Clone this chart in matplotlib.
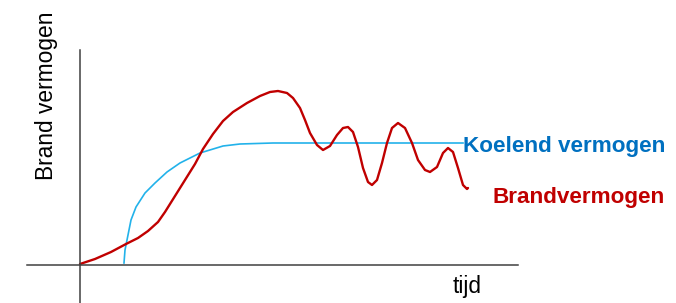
import matplotlib.pyplot as plt

# Brandvermogen (red) - time vs value
brand_t = [0, 15, 31, 46, 58, 68, 78, 85, 95, 105,
           115, 123, 133, 143, 153, 167, 180, 190, 198, 207,
           213, 220, 225, 230, 237, 243, 250, 257, 263, 268,
           273, 278, 283, 288, 292, 297, 302, 307, 312, 318,
           325, 332, 338, 345, 350, 357, 363, 368, 373, 378,
           383, 387, 388]
brand_v = [1, 6, 13, 21, 27, 34, 43, 53, 69, 85,
           101, 116, 131, 144, 153, 162, 169, 173, 174, 172,
           167, 157, 145, 132, 120, 115, 119, 130, 137, 138,
           133, 118, 97, 83, 80, 85, 102, 122, 137, 142,
           137, 122, 105, 95, 93, 98, 112, 117, 113, 97,
           80, 76, 77]

# Koelend vermogen (blue)
koel_t = [44, 45, 47, 51, 56, 65, 75, 87, 100, 120, 143, 160, 193, 253, 383]
koel_v = [2, 15, 25, 45, 58, 72, 82, 93, 102, 112, 119, 121, 122, 122, 122]

W, H = 676, 303
fig = plt.figure(figsize=(W / 100, H / 100), dpi=100)
ax = fig.add_axes([0, 0, 1, 1])
ax.set_xlim(-80, W - 80)
ax.set_ylim(-(H - 265), 265)

ax.plot(koel_t, koel_v, color='#22B2EA', linewidth=1.2, solid_joinstyle='round')
ax.plot(brand_t, brand_v, color='#C00000', linewidth=1.7, solid_joinstyle='round',
        solid_capstyle='round')

# axes as crossing lines
for side in ['top', 'right']:
    ax.spines[side].set_visible(False)
ax.spines['left'].set_position(('data', 0))
ax.spines['bottom'].set_position(('data', 0))
ax.spines['left'].set_bounds(-40, 215)
ax.spines['bottom'].set_bounds(-53, 438)
for side in ['left', 'bottom']:
    ax.spines[side].set_color('#404040')
    ax.spines[side].set_linewidth(1.1)
ax.set_xticks([])
ax.set_yticks([])
ax.patch.set_visible(False)

font = 'Liberation Sans'
fig.text(47 / W, 1 - 96 / H, 'Brand vermogen', rotation=90, ha='center', va='center',
         fontsize=16.4, family=font, color='#000000')
fig.text(467 / W, 1 - 293 / H, 'tijd', ha='center', va='baseline',
         fontsize=16.4, family=font, color='#000000')
fig.text(665 / W, 1 - 152 / H, 'Koelend vermogen', ha='right', va='baseline',
         fontsize=16.2, family=font, fontweight='bold', color='#0070C0')
fig.text(665 / W, 1 - 203 / H, 'Brandvermogen', ha='right', va='baseline',
         fontsize=16.2, family=font, fontweight='bold', color='#C00000')

fig.savefig('out.png', dpi=100, facecolor='white')
